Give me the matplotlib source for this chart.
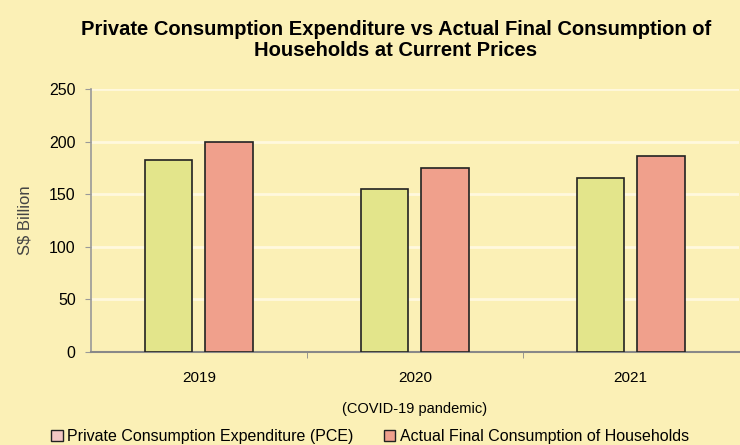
import numpy as np
import matplotlib.pyplot as plt
from matplotlib.patches import Patch

years = ["2019", "2020", "2021"]
pce = [182, 155, 165]
afch = [200, 175, 186]
yticks = [0, 50, 100, 150, 200, 250]

plt.rcParams['font.family'] = ['Liberation Sans', 'DejaVu Sans']

bg = "#FBF0B6"
fig = plt.figure(figsize=(7.4, 4.45), dpi=100, facecolor=bg)
ax = fig.add_axes([0.123, 0.21, 0.875, 0.59], facecolor=bg)

x = np.arange(len(years))
w = 0.22
ax.bar(x - 0.14, pce, w, color="#E3E58B", edgecolor="#222222", linewidth=1.2, zorder=3)
ax.bar(x + 0.14, afch, w, color="#F0A08C", edgecolor="#222222", linewidth=1.2, zorder=3)

ax.set_xlim(-0.5, 2.5)
ax.set_ylim(0, 250)
ax.set_yticks(yticks)
ax.set_yticklabels([str(v) for v in yticks], fontsize=11.5)
ax.set_xticks(x)
ax.set_xticklabels(years, fontsize=11)
ax.tick_params(axis='x', length=0, pad=14)
ax.set_xticks([0.5, 1.5], minor=True)
ax.tick_params(axis='x', which='minor', length=4, color="#888888")
ax.tick_params(axis='y', length=4, color="#999999", pad=7)
ax.grid(axis='y', color="#FFF8DE", linewidth=2, zorder=0)

for s in ['top', 'right']:
    ax.spines[s].set_visible(False)
ax.spines['left'].set_color("#999999")
ax.spines['bottom'].set_color("#888888")
ax.spines['left'].set_linewidth(1.2)
ax.spines['bottom'].set_linewidth(1.5)

ax.set_ylabel("S$ Billion", fontsize=12, color="#444444", labelpad=12)
ax.set_xlabel("(COVID-19 pandemic)", fontsize=10.5, labelpad=12)

fig.suptitle("Private Consumption Expenditure vs Actual Final Consumption of\nHouseholds at Current Prices",
             fontsize=14.5, fontweight='bold', x=0.535, y=0.955, linespacing=1.1)

handles = [Patch(facecolor="#F4C7C3", edgecolor="#222222"),
           Patch(facecolor="#F0A08C", edgecolor="#222222")]
labels = ["Private Consumption Expenditure (PCE)", "Actual Final Consumption of Households"]
fig.legend(handles, labels, loc='lower left', bbox_to_anchor=(0.05, -0.03), ncol=2,
           frameon=False, fontsize=11.5, handlelength=0.7, handleheight=0.7,
           handletextpad=0.3, columnspacing=1.9)

fig.savefig("out.png", dpi=100, facecolor=bg)
